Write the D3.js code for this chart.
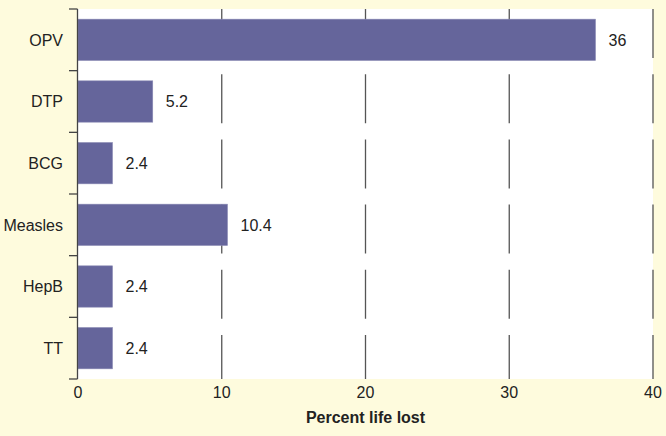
<!DOCTYPE html>
<html lang="en">
<head>
    <meta charset="UTF-8">
    <title>Percent life lost</title>
    <script src="https://cdn.jsdelivr.net/npm/d3@7"></script>
    <style>
        html, body { margin: 0; padding: 0; background: #fefbdd; }
        text { font-family: "Liberation Sans", Arial, sans-serif; fill: #222; }
    </style>
</head>
<body>
<div id="chart"></div>
<script>
    var vaccines = ['OPV', 'DTP', 'BCG', 'Measles', 'HepB', 'TT'];
    var lifeLost = [36, 5.2, 2.4, 10.4, 2.4, 2.4];
    var valueLabels = ['36', '5.2', '2.4', '10.4', '2.4', '2.4'];
    var xTicks = [0, 10, 20, 30, 40];

    var W = 666, H = 436;
    var m = {top: 9, right: 13, bottom: 57, left: 78};
    var w = W - m.left - m.right, h = H - m.top - m.bottom;

    var svg = d3.select('#chart')
            .append('svg')
            .attr('width', W)
            .attr('height', H);

    svg.append('rect')
            .attr('width', W).attr('height', H)
            .attr('fill', '#fefbdd');

    var g = svg.append('g')
            .attr('transform', 'translate(' + m.left + ',' + m.top + ')');

    var x = d3.scaleLinear().domain([0, 40]).range([0, w]);
    var y = d3.scaleBand().domain(vaccines).range([0, h]).paddingInner(0.33).paddingOuter(0.165);

    // white plot area
    g.append('rect')
            .attr('width', w).attr('height', h)
            .attr('fill', '#fff');

    // dashed gridlines
    g.selectAll('line.grid')
            .data(xTicks.slice(1))
            .enter()
            .append('line')
            .attr('class', 'grid')
            .attr('x1', function(d){ return x(d); })
            .attr('x2', function(d){ return x(d); })
            .attr('y1', 0)
            .attr('y2', h)
            .attr('stroke', '#555')
            .attr('stroke-width', 1.3)
            .attr('stroke-dasharray', '49,16.2');

    // bars
    g.selectAll('rect.bar')
            .data(vaccines)
            .enter()
            .append('rect')
            .attr('class', 'bar')
            .attr('x', 0)
            .attr('y', function(d){ return y(d); })
            .attr('width', function(d, i){ return x(lifeLost[i]); })
            .attr('height', y.bandwidth())
            .attr('fill', '#65659b')
            .attr('stroke', '#8a8ab4')
            .attr('stroke-width', 0.6);

    // value labels
    g.selectAll('text.val')
            .data(vaccines)
            .enter()
            .append('text')
            .attr('class', 'val')
            .attr('x', function(d, i){ return x(lifeLost[i]) + 13; })
            .attr('y', function(d){ return y(d) + y.bandwidth() / 2; })
            .attr('dy', '0.36em')
            .style('font-size', '16px')
            .text(function(d, i){ return valueLabels[i]; });

    // y axis with ticks on category boundaries
    var yg = g.append('g');
    yg.append('line')
            .attr('x1', -0.5).attr('x2', -0.5)
            .attr('y1', 0).attr('y2', h)
            .attr('stroke', '#444').attr('stroke-width', 1.3);
    yg.selectAll('line.tick')
            .data(d3.range(vaccines.length + 1))
            .enter()
            .append('line')
            .attr('class', 'tick')
            .attr('x1', -9).attr('x2', -0.5)
            .attr('y1', function(d){ return d * h / vaccines.length; })
            .attr('y2', function(d){ return d * h / vaccines.length; })
            .attr('stroke', '#444').attr('stroke-width', 1.3);
    yg.selectAll('text')
            .data(vaccines)
            .enter()
            .append('text')
            .attr('x', -15)
            .attr('y', function(d){ return y(d) + y.bandwidth() / 2; })
            .attr('dy', '0.36em')
            .attr('text-anchor', 'end')
            .style('font-size', '16px')
            .text(function(d){ return d; });

    // x tick labels
    g.selectAll('text.xt')
            .data(xTicks)
            .enter()
            .append('text')
            .attr('class', 'xt')
            .attr('x', function(d){ return x(d); })
            .attr('y', h + 19)
            .attr('text-anchor', 'middle')
            .style('font-size', '16px')
            .text(function(d){ return d; });

    g.append('text')
            .attr('x', w / 2)
            .attr('y', h + 44)
            .attr('text-anchor', 'middle')
            .style('font-size', '16px')
            .style('font-weight', 'bold')
            .text('Percent life lost');
</script>
</body>
</html>
